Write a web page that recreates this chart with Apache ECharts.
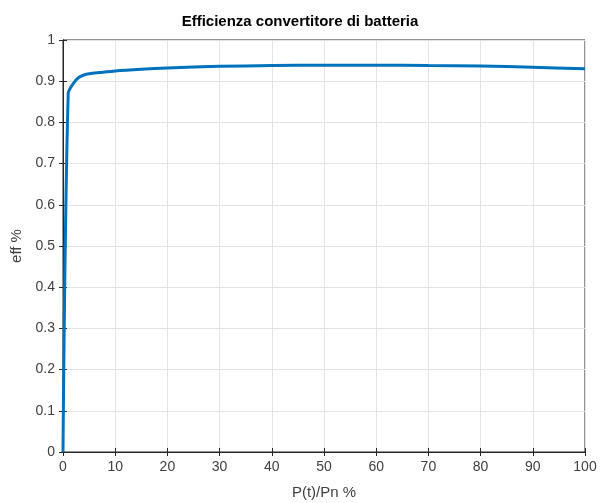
<!DOCTYPE html>
<html><head><meta charset="utf-8">
<script src="https://cdn.jsdelivr.net/npm/echarts@6/dist/echarts.min.js"></script>
<style>html,body{margin:0;padding:0;background:#fff}#c{width:600px;height:503px}</style>
</head><body><div id="c"></div>
<script>
const xValues = [0, 1, 2, 3, 4, 5, 7, 10, 15, 20, 30, 40, 50, 60, 70, 80, 90, 100];
const effValues = [0, 0.87, 0.895, 0.909, 0.915, 0.918, 0.921, 0.925, 0.929, 0.932, 0.936, 0.938, 0.939, 0.939, 0.938, 0.937, 0.934, 0.930];
const titleText = 'Efficienza convertitore di batteria';
const xName = 'P(t)/Pn %';
const yName = 'eff %';

const chart = echarts.init(document.getElementById('c'));
const axisCol = '#262626';
const labelCol = '#404040';
const fontFam = 'Liberation Sans, Arial, sans-serif';
const gridLine = {show: true, lineStyle: {color: '#e3e3e3', width: 1}};
chart.setOption({
  animation: false,
  title: {text: titleText, left: 'center', top: 9,
    textStyle: {fontFamily: fontFam, fontSize: 15, fontWeight: 'bold', color: '#000'}},
  grid: {left: 63, right: 15, top: 40, bottom: 51, containLabel: false, outerBoundsMode: 'none',
    show: true, borderColor: axisCol, borderWidth: 1, backgroundColor: 'transparent'},
  xAxis: [{
    type: 'value', min: 0, max: 100, interval: 10,
    name: xName, nameLocation: 'middle', nameGap: 33,
    nameTextStyle: {fontFamily: fontFam, fontSize: 15, color: labelCol},
    axisLine: {show: true, lineStyle: {color: axisCol, width: 1}},
    axisTick: {show: true, inside: true, length: 4, lineStyle: {color: axisCol}},
    axisLabel: {fontFamily: fontFam, fontSize: 14, color: labelCol, margin: 8},
    splitLine: gridLine
  }, {
    type: 'value', min: 0, max: 100, interval: 10, position: 'top',
    axisLine: {show: true, lineStyle: {color: axisCol, width: 1}},
    axisTick: {show: true, inside: true, length: 4, lineStyle: {color: axisCol}},
    axisLabel: {show: false}, splitLine: {show: false}
  }],
  yAxis: [{
    type: 'value', min: 0, max: 1, interval: 0.1,
    name: yName, nameLocation: 'middle', nameGap: 36, nameRotate: 90,
    nameTextStyle: {fontFamily: fontFam, fontSize: 15, color: labelCol},
    axisLine: {show: true, lineStyle: {color: axisCol, width: 1}},
    axisTick: {show: true, inside: true, length: 4, lineStyle: {color: axisCol}},
    axisLabel: {fontFamily: fontFam, fontSize: 14, color: labelCol, margin: 8,
      formatter: v => String(Math.round(v * 10) / 10)},
    splitLine: gridLine
  }, {
    type: 'value', min: 0, max: 1, interval: 0.1, position: 'right',
    axisLine: {show: true, lineStyle: {color: axisCol, width: 1}},
    axisTick: {show: true, inside: true, length: 4, lineStyle: {color: axisCol}},
    axisLabel: {show: false}, splitLine: {show: false}
  }],
  series: [{
    type: 'line', xAxisIndex: 0, yAxisIndex: 0, smooth: 0.3,
    data: xValues.map((x, i) => [x, effValues[i]]),
    showSymbol: false, symbol: 'none',
    lineStyle: {color: '#0072BD', width: 3}, clip: true
  }]
});
</script></body></html>
